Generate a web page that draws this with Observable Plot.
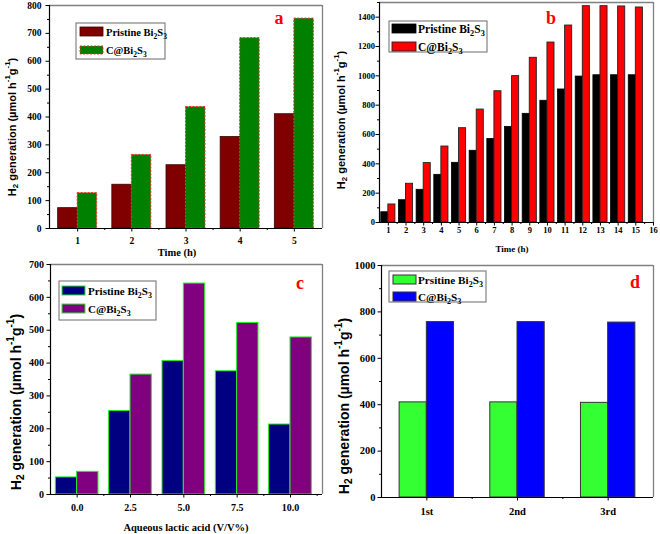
<!DOCTYPE html>
<html><head><meta charset="utf-8">
<script src="https://cdn.jsdelivr.net/npm/d3@7"></script>
<script src="https://cdn.jsdelivr.net/npm/@observablehq/plot@0.6"></script>
<style>
body{margin:0;background:#fff;}
#wrap{position:relative;width:660px;height:534px;overflow:hidden;background:#fff;}
.panel{position:absolute;}
</style></head><body><div id="wrap"></div>
<script>
// ---- Data ----
const timeA = [1, 2, 3, 4, 5];
const pristineA = [73, 157, 227, 328, 410];
const carbonA = [127, 264, 436, 683, 753];

const timeB = [1, 2, 3, 4, 5, 6, 7, 8, 9, 10, 11, 12, 13, 14, 15];
const pristineB = [70, 152, 223, 325, 407, 489, 570, 652, 741, 830, 907, 995, 1004, 1004, 1004];
const carbonB = [123, 264, 405, 518, 643, 770, 895, 998, 1123, 1227, 1343, 1475, 1475, 1473, 1466];

const lacticC = [0, 2.5, 5, 7.5, 10];
const pristineC = [52, 254, 406, 375, 213];
const carbonC = [69, 365, 642, 522, 478];

const cycleD = ["1st", "2nd", "3rd"];
const cycleIndexD = [1, 2, 3];
const pristineD = [410, 410, 408];
const carbonD = [756, 756, 754];

const xTicksA = [1, 2, 3, 4, 5];
const yTicksA = [0, 100, 200, 300, 400, 500, 600, 700, 800];
const xTicksB = [1, 2, 3, 4, 5, 6, 7, 8, 9, 10, 11, 12, 13, 14, 15, 16];
const yTicksB = [0, 200, 400, 600, 800, 1000, 1200, 1400];
const xTicksC = [0, 2.5, 5, 7.5, 10];
const yTicksC = [0, 100, 200, 300, 400, 500, 600, 700];
const yTicksD = [0, 200, 400, 600, 800, 1000];

const legendA = ["Pristine Bi", "C@Bi"];
const legendD = ["Prsitine Bi", "C@Bi"];

// ---- helpers ----
const wrap = document.getElementById("wrap");

function rich(textSel, parts, fs) {
  let shift = 0;
  parts.forEach(([t, m]) => {
    const target = m === "sub" ? fs * 0.3 : m === "sup" ? -fs * 0.42 : 0;
    const ts = textSel.append("tspan").text(t).attr("dy", target - shift);
    if (m !== "n") ts.attr("font-size", fs * 0.72);
    shift = target;
  });
}

function panel(cfg) {
  const mkRows = (xs, vs) => xs.map((x, i) => ({x, v: vs[i]}));
  const w = cfg.barWidth;
  const s = cfg.series;
  const marks = [
    Plot.rect(mkRows(cfg.xs, s[0].values), {x1: d => d.x - w, x2: d => d.x, y1: d => 0, y2: "v",
      fill: s[0].fill, stroke: s[0].stroke, strokeWidth: s[0].sw || 1, strokeDasharray: s[0].dash}),
    Plot.rect(mkRows(cfg.xs, s[1].values), {x1: d => d.x, x2: d => d.x + w, y1: d => 0, y2: "v",
      fill: s[1].fill, stroke: s[1].stroke, strokeWidth: s[1].sw || 1, strokeDasharray: s[1].dash}),
    Plot.ruleY([cfg.yDomain[1]], {stroke: "#808080", strokeWidth: 1.3}),
    Plot.ruleX([cfg.xDomain[1]], {stroke: "#808080", strokeWidth: 1.3}),
    Plot.ruleY([cfg.yDomain[0]], {stroke: "#000", strokeWidth: 1.2}),
    Plot.ruleX([cfg.xDomain[0]], {stroke: "#000", strokeWidth: 1.2}),
    Plot.axisX({ticks: cfg.xMajor, tickSize: 3.5, tickPadding: cfg.xPad, tickFormat: cfg.xFormat, label: null}),
    Plot.axisX({ticks: cfg.xMinor, tickSize: 2, tickFormat: () => "", label: null}),
    Plot.axisY({ticks: cfg.yMajor, tickSize: 3.5, tickPadding: cfg.yPad, tickFormat: d => String(d), label: null}),
    Plot.axisY({ticks: cfg.yMinor, tickSize: 2, tickFormat: () => "", label: null})
  ];
  const svgEl = Plot.plot({
    width: cfg.width, height: cfg.height,
    marginTop: cfg.m[0], marginRight: cfg.m[1], marginBottom: cfg.m[2], marginLeft: cfg.m[3],
    x: {type: "linear", domain: cfg.xDomain},
    y: {type: "linear", domain: cfg.yDomain},
    style: {fontFamily: "Liberation Serif", fontWeight: "bold", fontSize: cfg.tickFont + "px", color: "#000", background: "transparent", overflow: "visible"},
    marks
  });
  const div = document.createElement("div");
  div.className = "panel";
  div.style.left = cfg.left + "px";
  div.style.top = cfg.top + "px";
  div.appendChild(svgEl);
  wrap.appendChild(div);
  const svg = d3.select(svgEl);

  // y title
  const yt = svg.append("text")
    .attr("transform", `translate(${cfg.yTitle[0]},${cfg.yTitle[1]}) rotate(-90)`)
    .attr("text-anchor", "middle").attr("dominant-baseline", "middle")
    .attr("font-family", "Liberation Sans").attr("font-weight", "bold")
    .attr("font-size", cfg.yTitleFs).attr("fill", "#000");
  rich(yt, [["H", "n"], ["2", "sub"], [" generation (\u00b5mol h", "n"], ["-1", "sup"], ["g", "n"], ["-1", "sup"], [")", "n"]], cfg.yTitleFs);

  // x title
  if (cfg.xTitle) {
    svg.append("text").attr("x", cfg.xTitle.x).attr("y", cfg.xTitle.y)
      .attr("text-anchor", "middle").attr("font-family", "Liberation Serif")
      .attr("font-weight", "bold").attr("font-size", cfg.xTitle.fs).attr("fill", "#000")
      .text(cfg.xTitle.text);
  }

  // letter
  svg.append("text").attr("x", cfg.letter.x).attr("y", cfg.letter.y)
    .attr("text-anchor", "middle").attr("font-family", "Liberation Serif")
    .attr("font-weight", "bold").attr("font-size", 18).attr("fill", "#ff0000")
    .text(cfg.letter.t);

  // legend
  const L = cfg.legend;
  const g = svg.append("g");
  g.append("rect").attr("x", L.box[0]).attr("y", L.box[1]).attr("width", L.box[2]).attr("height", L.box[3])
    .attr("fill", "#fff").attr("stroke", "#777").attr("stroke-width", 1.1);
  L.items.forEach((it, i) => {
    const sr = s[i];
    g.append("rect").attr("x", it.sw[0]).attr("y", it.sw[1]).attr("width", it.sw[2]).attr("height", it.sw[3])
      .attr("fill", sr.fill).attr("stroke", sr.stroke).attr("stroke-width", sr.sw || 1)
      .attr("stroke-dasharray", sr.dash || null);
    const t = g.append("text").attr("x", L.textX).attr("y", it.base)
      .attr("text-anchor", "start")
      .attr("font-family", "Liberation Serif").attr("font-weight", "bold")
      .attr("font-size", L.fs).attr("fill", "#000");
    rich(t, [[it.label, "n"], ["2", "sub"], ["S", "n"], ["3", "sub"]], L.fs);
  });
}

// ---- Panel a ----
panel({
  left: 0, top: 0, width: 330, height: 262, m: [5, 8, 34, 49],
  xs: timeA, barWidth: 0.36,
  series: [
    {values: pristineA, fill: "#800000", stroke: "#3a0000", sw: 0.8},
    {values: carbonA, fill: "#008000", stroke: "#ff2a2a", sw: 1, dash: "2,1.5"}
  ],
  xDomain: [0.48, 5.52], yDomain: [0, 800],
  xMajor: xTicksA, xMinor: [1.5, 2.5, 3.5, 4.5], xFormat: d => String(d),
  yMajor: yTicksA, yMinor: [50, 150, 250, 350, 450, 550, 650, 750],
  tickFont: 9.5, xPad: 5, yPad: 4.5,
  yTitle: [13, 127], yTitleFs: 11,
  xTitle: {text: "Time (h)", x: 177, y: 256, fs: 10.5},
  letter: {t: "a", x: 279, y: 24},
  legend: {box: [76, 23, 89, 36], textX: 106, fs: 10.5,
    items: [{sw: [80, 27, 23, 9], base: 35.5, label: legendA[0]}, {sw: [80, 46, 23, 8], base: 53.5, label: legendA[1]}]}
});

// ---- Panel b ----
panel({
  left: 330, top: 0, width: 330, height: 262, m: [2, 7, 40, 49],
  xs: timeB, barWidth: 0.4,
  series: [
    {values: pristineB, fill: "#000000", stroke: "#000", sw: 0.8},
    {values: carbonB, fill: "#ff0000", stroke: "#222", sw: 0.9}
  ],
  xDomain: [0.5, 16], yDomain: [0, 1500],
  xMajor: xTicksB, xMinor: d3.range(1.5, 16, 1), xFormat: d => String(d),
  yMajor: yTicksB, yMinor: [100, 300, 500, 700, 900, 1100, 1300, 1500],
  tickFont: 8.5, xPad: 0.5, yPad: 1,
  yTitle: [12, 120], yTitleFs: 11,
  xTitle: {text: "Time (h)", x: 182, y: 252, fs: 9},
  letter: {t: "b", x: 221, y: 24},
  legend: {box: [59, 21, 98, 31], textX: 88, fs: 11.5,
    items: [{sw: [62, 24, 24, 9], base: 32.5, label: legendA[0]}, {sw: [62, 42, 24, 9], base: 50.5, label: legendA[1]}]}
});

// ---- Panel c ----
panel({
  left: 0, top: 260, width: 330, height: 274, m: [4, 8, 40, 50],
  xs: lacticC, barWidth: 1.0,
  series: [
    {values: pristineC, fill: "#000080", stroke: "#22ee22", sw: 1},
    {values: carbonC, fill: "#800080", stroke: "#22ee22", sw: 1}
  ],
  xDomain: [-1.25, 11.5], yDomain: [0, 700],
  xMajor: xTicksC, xMinor: [1.25, 3.75, 6.25, 8.75, 11.25], xFormat: d3.format(".1f"),
  yMajor: yTicksC, yMinor: [50, 150, 250, 350, 450, 550, 650],
  tickFont: 10, xPad: 6, yPad: 3,
  yTitle: [17, 142], yTitleFs: 14,
  xTitle: {text: "Aqueous lactic acid (V/V%)", x: 186, y: 271, fs: 10.5},
  letter: {t: "c", x: 300, y: 29},
  legend: {box: [59, 21, 97, 39], textX: 88, fs: 11,
    items: [{sw: [62, 26, 23, 9], base: 34.5, label: legendA[0]}, {sw: [62, 44, 23, 9], base: 52.5, label: legendA[1]}]}
});

// ---- Panel d ----
panel({
  left: 330, top: 260, width: 330, height: 274, m: [5, 7, 37, 51],
  xs: cycleIndexD, barWidth: 0.3,
  series: [
    {values: pristineD, fill: "#33ff33", stroke: "#333", sw: 1},
    {values: carbonD, fill: "#0000ff", stroke: "#333", sw: 1}
  ],
  xDomain: [0.5, 3.5], yDomain: [0, 1000],
  xMajor: cycleIndexD, xMinor: [1.5, 2.5], xFormat: d => cycleD[d - 1],
  yMajor: yTicksD, yMinor: [100, 300, 500, 700, 900],
  tickFont: 10.5, xPad: 7, yPad: 2.5,
  yTitle: [15, 146], yTitleFs: 14,
  xTitle: null,
  letter: {t: "d", x: 305, y: 28},
  legend: {box: [59, 11, 97, 31], textX: 88, fs: 11.2,
    items: [{sw: [63, 15, 23, 9], base: 23.5, label: legendD[0]}, {sw: [63, 32, 23, 9], base: 40.5, label: legendD[1]}]}
});
</script></body></html>
